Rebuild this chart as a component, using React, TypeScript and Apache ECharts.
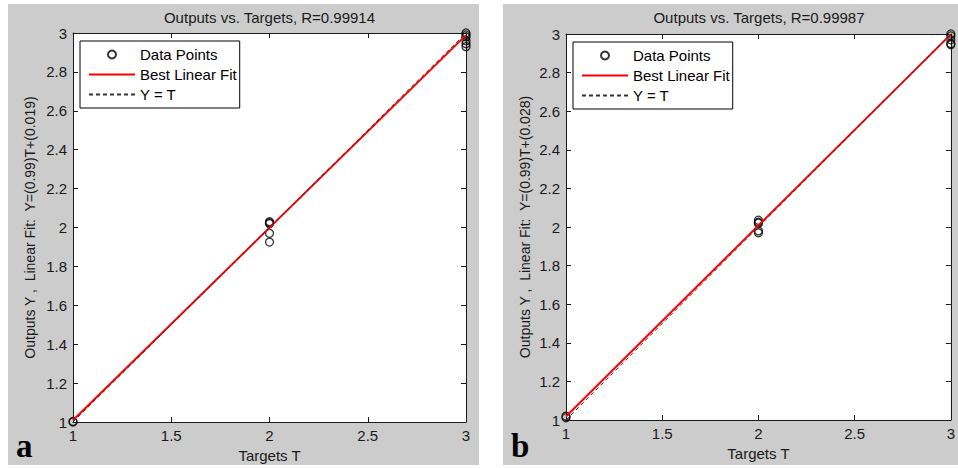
import React, { useEffect, useRef } from "react";
import * as echarts from "echarts";

// ---- data ----
const titlesAB = ["Outputs vs. Targets, R=0.99914", "Outputs vs. Targets, R=0.99987"];
const yNamesAB = [
  "Outputs Y ,  Linear Fit:  Y=(0.99)T+(0.019)",
  "Outputs Y ,  Linear Fit:  Y=(0.99)T+(0.028)",
];
const panelLetters = ["a", "b"];
const legendNames = ["Data Points", "Best Linear Fit", "Y = T"];

const pointsA: [number, number][] = [
  [1, 1.0], [1, 1.003],
  [2, 2.03], [2, 2.025], [2, 2.02], [2, 1.97], [2, 1.925],
  [3, 3.0], [3, 2.99], [3, 2.98], [3, 2.96], [3, 2.945], [3, 2.93],
];
const pointsB: [number, number][] = [
  [1, 1.02], [1, 1.012],
  [2, 2.035], [2, 2.025], [2, 2.02], [2, 1.98], [2, 1.97],
  [3, 3.0], [3, 2.99], [3, 2.97], [3, 2.95], [3, 2.945],
];
const fitA: [number, number][] = [[1, 1.009], [3, 2.989]];
const fitB: [number, number][] = [[1, 1.018], [3, 2.998]];
const identity: [number, number][] = [[1, 1], [3, 3]];

const FONT = "Liberation Sans, Arial, sans-serif";
const INK = "#1a1a1a";

export default function App() {
  const ref = useRef<HTMLDivElement>(null);
  useEffect(() => {
    if (!ref.current) return;
    const chart = echarts.init(ref.current, undefined, { renderer: "svg" });

    const grids = [
      { left: 73, top: 33, width: 393, height: 389 },
      { left: 566, top: 34, width: 386, height: 386 },
    ];
    const yNameGaps = [36, 34];
    const xNameGaps = [24, 23];

    const xAxes: any[] = [];
    const yAxes: any[] = [];
    grids.forEach((g, i) => {
      const common = {
        gridIndex: i,
        type: "value",
        min: 1,
        max: 3,
        axisLine: { show: true, onZero: false, lineStyle: { color: INK, width: 1 } },
        axisTick: { show: true, inside: true, length: 5, lineStyle: { color: INK } },
        splitLine: { show: false },
      };
      xAxes.push({
        ...common,
        position: "bottom",
        interval: 0.5,
        axisLabel: { show: true, color: INK, fontSize: 15, fontFamily: FONT, margin: 6 },
        name: "Targets T",
        nameLocation: "middle",
        nameGap: xNameGaps[i],
        nameTextStyle: { color: INK, fontSize: 15, fontFamily: FONT },
      });
      xAxes.push({ ...common, position: "top", interval: 0.5, axisLabel: { show: false } });
      yAxes.push({
        ...common,
        position: "left",
        interval: 0.2,
        axisLabel: { show: true, color: INK, fontSize: 15, fontFamily: FONT, margin: 6 },
        name: yNamesAB[i],
        nameLocation: "middle",
        nameGap: yNameGaps[i],
        nameTextStyle: { color: INK, fontSize: 14, fontFamily: FONT },
      });
      yAxes.push({ ...common, position: "right", interval: 0.2, axisLabel: { show: false } });
    });

    const pts = [pointsA, pointsB];
    const fits = [fitA, fitB];
    const series: any[] = [];
    [0, 1].forEach((i) => {
      series.push({
        type: "scatter",
        name: legendNames[0],
        xAxisIndex: i * 2,
        yAxisIndex: i * 2,
        data: pts[i],
        symbol: "circle",
        symbolSize: 8,
        itemStyle: { color: "rgba(0,0,0,0)", borderColor: "#000", borderWidth: 1.3 },
        z: 2,
      });
      series.push({
        type: "line",
        name: legendNames[1],
        xAxisIndex: i * 2,
        yAxisIndex: i * 2,
        data: fits[i],
        symbol: "none",
        lineStyle: { color: "#ff0000", width: 2 },
        itemStyle: { color: "#ff0000" },
        z: 3,
      });
      series.push({
        type: "line",
        name: legendNames[2],
        xAxisIndex: i * 2,
        yAxisIndex: i * 2,
        data: identity,
        symbol: "none",
        lineStyle: { color: "#333", width: 1, type: [4, 3] },
        itemStyle: { color: "#333" },
        z: 4,
      });
    });

    const legendPos = [
      { left: 80, top: 41 },
      { left: 573, top: 42 },
    ];

    chart.setOption({
      animation: false,
      backgroundColor: "#ffffff",
      title: titlesAB.map((t, i) => ({
        text: t,
        left: grids[i].left + grids[i].width / 2,
        textAlign: "center",
        top: 10,
        padding: 0,
        textStyle: { color: INK, fontSize: 15, fontWeight: "normal", fontFamily: FONT },
      })),
      graphic: [
        { type: "rect", shape: { x: 8, y: 4, width: 471, height: 461 }, style: { fill: "#cccccc" }, z: -10, silent: true },
        { type: "rect", shape: { x: 503, y: 4, width: 455, height: 461 }, style: { fill: "#cccccc" }, z: -10, silent: true },
        {
          type: "text",
          x: 16,
          y: 462,
          style: { text: panelLetters[0], font: 'bold 33px "Liberation Serif", "Times New Roman", serif', fill: "#000", verticalAlign: "bottom" },
          z: 10,
        },
        {
          type: "text",
          x: 511,
          y: 462,
          style: { text: panelLetters[1], font: 'bold 33px "Liberation Serif", "Times New Roman", serif', fill: "#000", verticalAlign: "bottom" },
          z: 10,
        },
      ],
      grid: grids.map((g) => ({ ...g, show: true, backgroundColor: "#ffffff", borderWidth: 0 })),
      xAxis: xAxes,
      yAxis: yAxes,
      legend: legendPos.map((p) => ({
        ...p,
        orient: "vertical",
        data: [
          { name: legendNames[0] },
          { name: legendNames[1], itemStyle: { opacity: 0 } },
          { name: legendNames[2], itemStyle: { opacity: 0 } },
        ],
        itemWidth: 46,
        itemHeight: 8,
        itemGap: 5,
        padding: [6, 3, 6, 8],
        backgroundColor: "#ffffff",
        borderColor: "#000",
        borderWidth: 1,
        borderRadius: 0,
        selectedMode: false,
        textStyle: { color: "#000", fontSize: 15, fontFamily: FONT },
      })),
      series,
    });
    return () => chart.dispose();
  }, []);
  return (
    <div
      ref={ref}
      style={{ position: "fixed", left: 0, top: 0, width: 958, height: 468, background: "#fff" }}
    />
  );
}
